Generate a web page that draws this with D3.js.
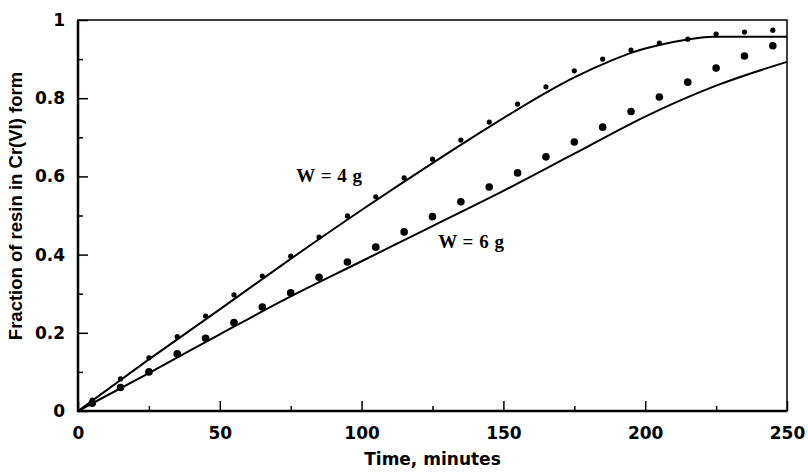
<!DOCTYPE html>
<html>
<head>
<meta charset="utf-8">
<script src="https://cdn.jsdelivr.net/npm/d3@7"></script>
<style>
  body { margin: 0; background: #fff; }
  .tick text { font-family: "DejaVu Sans", sans-serif; font-weight: bold; font-size: 17px; fill: #000; }
  .tick line { stroke: #000; stroke-width: 1.5px; }
</style>
</head>
<body>
<div id="chart"></div>
<script>
//chart size
var outerWidth = 808;
var outerHeight = 473;
var margin = { left: 78, top: 20, right: 21, bottom: 62 };

//data
var sampleTimes = [5, 15, 25, 35, 45, 55, 65, 75, 85, 95, 105, 115, 125,
    135, 145, 155, 165, 175, 185, 195, 205, 215, 225, 235, 245];
var measured4g = [0.028, 0.082, 0.136, 0.19, 0.243, 0.297, 0.345, 0.396, 0.445, 0.499, 0.548, 0.596, 0.644,
    0.693, 0.739, 0.785, 0.829, 0.870, 0.900, 0.923, 0.941, 0.951, 0.964, 0.969, 0.974];
var measured6g = [0.02, 0.06, 0.10, 0.146, 0.186, 0.226, 0.266, 0.302, 0.342, 0.381, 0.419, 0.458, 0.497,
    0.535, 0.573, 0.609, 0.650, 0.688, 0.726, 0.766, 0.803, 0.841, 0.877, 0.908, 0.934];

// model curves
var modelTimes4g = [0, 25, 50, 75, 100, 125, 150, 166, 175, 188, 195, 205, 215, 224, 250];
var model4g = [0, 0.132, 0.26, 0.389, 0.514, 0.634, 0.749, 0.818, 0.853, 0.896, 0.916, 0.936, 0.95, 0.957, 0.957];
var modelTimes6g = [0, 25, 50, 75, 100, 125, 150, 175, 200, 225, 250];
var model6g = [0, 0.097, 0.196, 0.293, 0.383, 0.473, 0.563, 0.658, 0.753, 0.832, 0.893];

var xTicks = [0, 50, 100, 150, 200, 250];
var yTicks = [0, 0.2, 0.4, 0.6, 0.8, 1];

var innerWidth = outerWidth - margin.left - margin.right;
var innerHeight = outerHeight - margin.top - margin.bottom;

var svg = d3.select("#chart").append("svg")
    .attr("width", outerWidth)
    .attr("height", outerHeight);

var g = svg.append("g")
    .attr("transform", "translate(" + margin.left + "," + margin.top + ")");

var xScale = d3.scaleLinear().domain([0, 250]).range([0, innerWidth]);
var yScale = d3.scaleLinear().domain([0, 1]).range([innerHeight, 0]);

//minor ticks
g.append("g")
    .attr("transform", "translate(0," + innerHeight + ")")
    .call(d3.axisBottom(xScale).tickValues(d3.range(25, 250, 50)).tickSize(-5).tickFormat(""))
    .call(function (s) { s.select(".domain").remove(); });
g.append("g")
    .call(d3.axisLeft(yScale).tickValues(d3.range(0.1, 1, 0.2)).tickSize(-5).tickFormat(""))
    .call(function (s) { s.select(".domain").remove(); });

//major ticks
g.append("g")
    .attr("transform", "translate(0," + innerHeight + ")")
    .call(d3.axisBottom(xScale).tickValues(xTicks).tickSize(-10).tickPadding(16).tickFormat(d3.format("d")))
    .call(function (s) { s.select(".domain").remove(); });
g.append("g")
    .call(d3.axisLeft(yScale).tickValues(yTicks).tickSize(-10).tickPadding(13)
        .tickFormat(function (d) { return d === 0 || d === 1 ? d : d.toFixed(1); }))
    .call(function (s) { s.select(".domain").remove(); });

//frame
g.append("rect")
    .attr("width", innerWidth)
    .attr("height", innerHeight)
    .attr("fill", "none")
    .attr("stroke", "#000")
    .attr("stroke-width", 1.5);
g.append("path")
    .attr("d", "M0,0V" + innerHeight + "H" + innerWidth)
    .attr("fill", "none")
    .attr("stroke", "#000")
    .attr("stroke-width", 2.5);

//curves
var line = d3.line()
    .x(function (d) { return xScale(d[0]); })
    .y(function (d) { return yScale(d[1]); })
    .curve(d3.curveMonotoneX);

g.append("path")
    .datum(d3.zip(modelTimes4g, model4g))
    .attr("d", line)
    .attr("fill", "none")
    .attr("stroke", "#000")
    .attr("stroke-width", 2);
g.append("path")
    .datum(d3.zip(modelTimes6g, model6g))
    .attr("d", line)
    .attr("fill", "none")
    .attr("stroke", "#000")
    .attr("stroke-width", 2);

//points
g.selectAll(".dot4").data(d3.zip(sampleTimes, measured4g)).enter()
    .append("circle")
    .attr("class", "dot4")
    .attr("cx", function (d) { return xScale(d[0]); })
    .attr("cy", function (d) { return yScale(d[1]); })
    .attr("r", 2.6)
    .attr("fill", "#000");
g.selectAll(".dot6").data(d3.zip(sampleTimes, measured6g)).enter()
    .append("circle")
    .attr("class", "dot6")
    .attr("cx", function (d) { return xScale(d[0]); })
    .attr("cy", function (d) { return yScale(d[1]); })
    .attr("r", 3.8)
    .attr("fill", "#000");

//curve labels
g.append("text")
    .attr("x", xScale(77))
    .attr("y", yScale(0.585))
    .attr("font-family", "Liberation Serif, serif")
    .attr("font-weight", "bold")
    .attr("font-size", "19px")
    .attr("word-spacing", "1px")
    .text("W = 4 g");
g.append("text")
    .attr("x", xScale(127))
    .attr("y", yScale(0.418))
    .attr("font-family", "Liberation Serif, serif")
    .attr("font-weight", "bold")
    .attr("font-size", "19px")
    .attr("word-spacing", "1px")
    .text("W = 6 g");

//axis titles
svg.append("text")
    .attr("x", margin.left + innerWidth / 2)
    .attr("y", 465)
    .attr("text-anchor", "middle")
    .attr("font-family", "DejaVu Sans, sans-serif")
    .attr("font-weight", "bold")
    .attr("font-size", "17px")
    .text("Time, minutes");
svg.append("text")
    .attr("transform", "translate(22," + 206 + ") rotate(-90)")
    .attr("text-anchor", "middle")
    .attr("font-family", "Liberation Sans, Arial, sans-serif")
    .attr("font-weight", "bold")
    .attr("font-size", "18.5px")
    .text("Fraction of resin in Cr(VI) form");
</script>
</body>
</html>
